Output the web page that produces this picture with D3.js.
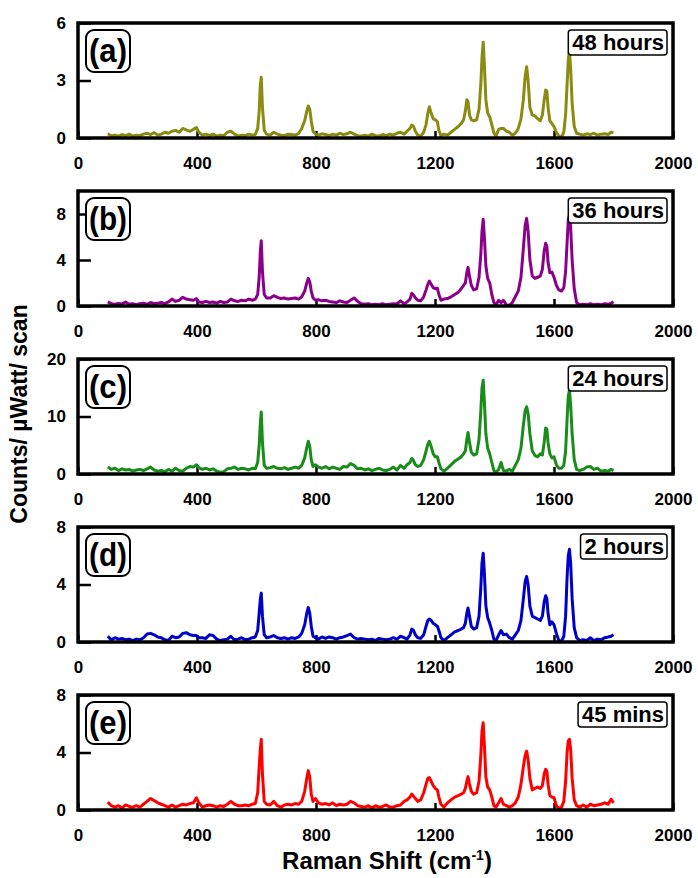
<!DOCTYPE html>
<html>
<head>
<meta charset="utf-8">
<script src="https://cdnjs.cloudflare.com/ajax/libs/d3/7.8.5/d3.min.js"></script>
<style>
    body { margin: 0; background: #fff; }
    svg text { font-family: "Liberation Sans", Arial, sans-serif; font-weight: bold; }
</style>
</head>
<body>
<svg id="chart" width="698" height="878"></svg>
<script>
// Raman shift positions (cm-1), shared by all five spectra
var ramanShift = [
    100,112,124,136,148,160,172,184,196,208,
    220,232,244,256,268,280,292,304,316,328,
    340,352,364,376,388,398,406,418,430,442,
    454,466,478,490,502,514,526,538,550,562,
    574,586,596,604,609,613,616,620,626,634,
    646,658,670,682,694,706,718,730,742,752,
    762,769,774,779,784,790,798,808,820,832,
    844,856,868,880,892,904,916,928,940,952,
    964,976,988,1000,1012,1024,1036,1048,1060,1072,
    1084,1096,1106,1116,1122,1128,1134,1142,1152,1162,
    1170,1176,1181,1187,1194,1201,1208,1213,1220,1230,
    1242,1254,1266,1278,1288,1296,1302,1307,1311,1316,
    1322,1330,1340,1348,1354,1358,1362,1366,1371,1377,
    1384,1391,1398,1405,1414,1422,1430,1440,1450,1460,
    1470,1480,1489,1497,1503,1508,1513,1519,1527,1536,
    1545,1554,1561,1567,1572,1576,1580,1586,1593,1600,
    1608,1616,1625,1633,1639,1644,1648,1652,1656,1661,
    1668,1676,1686,1698,1710,1722,1734,1746,1758,1770,
    1782,1792,1800
];

var counts48h = [
    0.22,0.12,0.15,0.1,0.18,0.12,0.2,0.1,0.15,0.12,
    0.2,0.25,0.18,0.28,0.15,0.2,0.3,0.25,0.35,0.4,
    0.3,0.5,0.42,0.35,0.45,0.55,0.3,0.15,0.2,0.12,
    0.2,0.1,0.15,0.12,0.3,0.35,0.2,0.1,0.15,0.12,
    0.2,0.15,0.18,0.5,1.4,2.8,3.17,1.6,0.4,0.2,
    0.15,0.3,0.2,0.15,0.12,0.2,0.18,0.15,0.25,0.5,
    0.9,1.4,1.67,1.5,0.9,0.35,0.2,0.15,0.22,0.18,
    0.12,0.2,0.15,0.25,0.18,0.22,0.3,0.2,0.12,0.1,
    0.15,0.1,0.2,0.12,0.1,0.18,0.12,0.2,0.15,0.25,
    0.3,0.2,0.35,0.5,0.68,0.6,0.35,0.15,0.1,0.3,
    0.7,1.3,1.63,1.3,1.0,0.95,0.85,0.4,0.12,0.2,
    0.15,0.3,0.45,0.6,0.75,0.95,1.4,2.0,1.9,1.2,
    0.95,0.9,0.95,1.5,2.8,4.2,5.0,3.8,2.0,1.3,
    1.1,0.7,0.25,0.1,0.45,0.5,0.5,0.35,0.3,0.15,
    0.25,0.5,1.0,2.0,3.2,3.72,3.0,1.6,1.2,1.15,
    1.0,0.9,1.2,2.0,2.5,2.45,1.6,0.9,0.75,0.6,
    0.3,0.1,0.05,0.3,1.2,2.8,4.1,4.54,3.6,1.8,
    0.6,0.25,0.2,0.15,0.22,0.18,0.25,0.15,0.2,0.22,
    0.18,0.3,0.28
];

var counts36h = [
    0.35,0.2,0.15,0.22,0.18,0.35,0.15,0.2,0.12,0.2,
    0.25,0.15,0.3,0.2,0.25,0.3,0.2,0.35,0.6,0.4,
    0.5,0.75,0.6,0.55,0.5,0.65,0.35,0.3,0.4,0.3,
    0.35,0.25,0.4,0.3,0.35,0.6,0.45,0.4,0.5,0.45,
    0.6,0.5,0.6,1.0,2.5,4.8,5.68,3.0,1.0,0.7,
    0.7,0.9,0.75,0.65,0.7,0.6,0.65,0.7,0.6,0.8,
    1.3,2.0,2.4,2.1,1.3,0.7,0.5,0.55,0.45,0.5,
    0.4,0.35,0.3,0.45,0.35,0.3,0.5,0.7,0.4,0.2,
    0.15,0.2,0.1,0.15,0.12,0.2,0.1,0.15,0.2,0.18,
    0.45,0.2,0.35,0.6,1.1,0.95,0.7,0.5,0.45,0.8,
    1.4,1.9,2.17,1.9,1.6,1.5,1.54,1.0,0.5,0.6,
    0.65,0.8,1.0,1.2,1.5,1.8,2.0,2.9,3.36,2.6,
    1.8,1.4,1.5,2.5,4.5,6.5,7.54,6.0,3.5,2.4,
    2.0,1.0,0.3,0.1,0.5,0.3,0.5,0.1,0.05,0.3,
    0.8,1.3,2.5,5.0,7.0,7.62,6.5,4.0,2.6,2.4,
    2.5,2.6,3.2,4.8,5.45,5.2,3.8,2.9,2.95,2.5,
    1.8,1.4,1.3,1.6,3.0,5.5,7.5,7.9,6.8,4.0,
    1.5,0.3,0.1,0.15,0.1,0.2,0.12,0.15,0.1,0.2,
    0.15,0.25,0.35
];

var counts24h = [
    1.2,0.8,1.0,0.6,0.9,0.7,0.8,0.5,0.7,0.8,
    0.6,0.9,1.2,0.7,0.5,0.6,0.4,0.8,0.5,1.0,
    0.6,0.5,1.0,1.3,1.2,1.6,1.1,0.8,1.0,0.7,
    0.9,0.5,0.3,0.4,0.9,1.0,1.2,0.8,1.0,0.9,
    0.7,1.0,0.9,2.0,5.0,9.0,10.8,5.5,1.5,1.0,
    1.1,1.3,1.0,0.9,1.1,0.8,1.0,1.2,1.0,1.5,
    2.8,4.6,5.7,4.8,2.5,1.3,1.6,1.2,1.0,1.3,
    0.9,1.2,1.0,0.8,1.3,1.2,1.8,1.5,0.9,1.0,
    0.7,0.9,0.6,0.8,1.0,0.7,0.6,0.8,1.2,0.7,
    1.5,1.0,1.6,2.0,2.7,2.3,1.6,1.3,1.5,2.5,
    4.0,5.2,5.7,4.8,3.5,3.0,3.0,2.0,0.9,0.5,
    1.0,1.6,2.2,2.6,3.0,3.5,4.0,6.0,7.2,5.5,
    3.8,3.3,3.5,6.0,11.0,15.0,16.3,12.5,7.0,4.5,
    3.5,2.0,0.6,0.3,0.8,2.0,0.6,0.5,0.8,0.5,
    1.5,2.5,4.5,8.5,11.0,11.7,10.5,7.0,4.0,3.2,
    3.0,3.5,3.3,5.5,8.0,7.8,5.5,3.5,2.8,3.0,
    1.6,1.0,1.0,1.5,4.0,9.5,13.5,14.6,12.0,7.0,
    2.5,0.8,0.6,0.8,1.2,1.3,0.8,1.0,0.5,0.6,
    0.5,0.8,0.6
];

var counts2h = [
    0.4,0.15,0.3,0.2,0.25,0.15,0.2,0.1,0.2,0.15,
    0.3,0.55,0.6,0.5,0.35,0.3,0.15,0.1,0.4,0.3,
    0.35,0.6,0.65,0.5,0.45,0.45,0.3,0.3,0.25,0.5,
    0.45,0.2,0.1,0.15,0.2,0.4,0.15,0.2,0.3,0.15,
    0.2,0.3,0.35,0.8,2.0,3.0,3.4,1.8,0.5,0.3,
    0.35,0.45,0.3,0.25,0.3,0.2,0.3,0.25,0.35,0.6,
    1.2,2.0,2.4,2.0,1.1,0.4,0.3,0.2,0.35,0.25,
    0.35,0.3,0.2,0.3,0.35,0.45,0.55,0.3,0.2,0.25,
    0.2,0.15,0.2,0.1,0.25,0.2,0.15,0.2,0.3,0.2,
    0.4,0.3,0.2,0.5,0.9,0.8,0.5,0.3,0.25,0.5,
    1.1,1.5,1.6,1.5,1.3,1.2,1.1,0.8,0.3,0.1,
    0.3,0.5,0.7,0.8,0.9,1.0,1.3,2.0,2.37,1.8,
    1.1,0.9,1.0,1.8,3.8,5.5,6.18,4.8,2.5,1.7,
    1.3,0.8,0.2,0.1,0.5,0.8,0.5,0.55,0.3,0.2,
    0.5,0.8,1.5,3.0,4.2,4.56,4.0,2.5,1.8,1.7,
    1.6,1.5,1.8,2.8,3.22,3.0,2.0,1.2,1.4,1.2,
    0.6,0.1,0.05,0.4,1.8,4.5,6.0,6.45,5.5,3.0,
    1.0,0.3,0.1,0.15,0.1,0.3,0.1,0.2,0.15,0.3,
    0.35,0.4,0.5
];

var counts45min = [
    0.55,0.3,0.2,0.3,0.15,0.35,0.25,0.2,0.3,0.2,
    0.4,0.6,0.8,0.65,0.5,0.4,0.3,0.2,0.35,0.2,
    0.3,0.4,0.35,0.45,0.5,0.85,0.5,0.2,0.3,0.35,
    0.3,0.2,0.3,0.25,0.4,0.6,0.4,0.3,0.3,0.35,
    0.3,0.4,0.45,1.2,3.0,4.3,4.92,2.5,0.6,0.4,
    0.35,0.6,0.3,0.2,0.35,0.4,0.35,0.45,0.4,0.6,
    1.3,2.2,2.74,2.3,1.1,0.6,0.8,0.5,0.4,0.45,
    0.35,0.5,0.3,0.4,0.35,0.4,0.6,0.5,0.3,0.25,
    0.2,0.3,0.15,0.3,0.2,0.25,0.35,0.2,0.2,0.3,
    0.35,0.6,0.7,0.9,1.11,0.95,0.8,0.6,0.7,1.2,
    1.8,2.2,2.25,2.0,1.7,1.5,1.4,0.9,0.4,0.2,
    0.5,0.7,0.9,1.0,1.1,1.2,1.5,2.0,2.32,1.8,
    1.3,1.1,1.2,2.0,3.8,5.5,6.07,4.5,2.3,1.6,
    1.4,0.9,0.3,0.2,0.5,0.8,0.4,0.3,0.2,0.3,
    0.5,0.9,1.8,3.0,3.8,4.1,3.5,2.2,1.4,1.5,
    1.6,1.5,1.7,2.5,2.83,2.7,1.8,1.0,0.9,0.85,
    0.3,0.1,0.2,0.6,2.0,4.0,4.8,4.92,4.2,2.2,
    0.7,0.3,0.2,0.35,0.2,0.4,0.3,0.35,0.4,0.5,
    0.4,0.75,0.5
];

var panelLetters = ["(a)", "(b)", "(c)", "(d)", "(e)"];
var timeLabels = ["48 hours", "36 hours", "24 hours", "2 hours", "45 mins"];
var yMax = [6, 10, 20, 8, 8];
var yTicks = [[0, 3, 6], [0, 4, 8], [0, 10, 20], [0, 4, 8], [0, 4, 8]];
var xTicks = [0, 400, 800, 1200, 1600, 2000];
var series = [counts48h, counts36h, counts24h, counts2h, counts45min];
var colors = ["#8b8b12", "#8b008b", "#198c19", "#0000c8", "#ff0000"];

var svg = d3.select("#chart");
var left = 78, right = 673, panelH = 115, firstTop = 23, step = 168;

var x = d3.scaleLinear().domain([0, 2000]).range([left, right]);

series.forEach(function (vals, p) {
    var top = firstTop + p * step;
    var y = d3.scaleLinear().domain([0, yMax[p]]).range([top + panelH, top]);
    var g = svg.append("g");

    var pts = ramanShift.map(function (s, i) {
        return [s, vals[i]];
    });

    var line = d3.line()
        .x(function (d) { return x(d[0]); })
        .y(function (d) { return y(d[1]); });

    // ticks point into the frame
    var xAxis = g.append("g")
        .attr("transform", "translate(0," + (top + panelH) + ")")
        .call(d3.axisBottom(x).tickValues(xTicks).tickFormat(d3.format("d"))
            .tickSize(-7).tickPadding(19));
    var yAxis = g.append("g")
        .attr("transform", "translate(" + left + ",0)")
        .call(d3.axisLeft(y).tickValues(yTicks[p]).tickFormat(d3.format("d"))
            .tickSize(-13).tickPadding(12));

    [xAxis, yAxis].forEach(function (a) {
        a.select(".domain").remove();
        a.selectAll("line").attr("stroke", "#000").attr("stroke-width", 2.5);
        a.selectAll("text")
            .attr("fill", "#000")
            .style("font-size", "17px")
            .style("font-family", "'Liberation Sans', Arial, sans-serif")
            .style("font-weight", "bold");
    });

    g.append("path")
        .attr("d", line(pts))
        .attr("fill", "none")
        .attr("stroke", colors[p])
        .attr("stroke-width", 3)
        .attr("stroke-linejoin", "round");

    g.append("rect")
        .attr("x", left).attr("y", top)
        .attr("width", right - left).attr("height", panelH)
        .attr("fill", "none")
        .attr("stroke", "#000")
        .attr("stroke-width", 3.5);

    // panel letter in rounded box
    g.append("rect")
        .attr("x", 86).attr("y", top + 7)
        .attr("width", 44).attr("height", 42)
        .attr("rx", 8)
        .attr("fill", "#fff")
        .attr("stroke", "#000")
        .attr("stroke-width", 2);
    g.append("text")
        .attr("x", 108).attr("y", top + 39)
        .attr("text-anchor", "middle")
        .attr("textLength", 38)
        .attr("lengthAdjust", "spacingAndGlyphs")
        .style("font-size", "33px")
        .text(panelLetters[p]);

    // time label at top right
    var box = g.append("rect")
        .attr("y", top + 7)
        .attr("height", 25)
        .attr("rx", 3)
        .attr("fill", "#fff")
        .attr("stroke", "#000")
        .attr("stroke-width", 1.5);
    var t = g.append("text")
        .attr("x", 664).attr("y", top + 27)
        .attr("text-anchor", "end")
        .style("font-size", "22px")
        .text(timeLabels[p]);
    var w = t.node().getComputedTextLength();
    box.attr("x", 667 - w - 7).attr("width", w + 7);
});

svg.append("text")
    .attr("transform", "translate(27,414) rotate(-90)")
    .attr("text-anchor", "middle")
    .style("font-size", "23px")
    .text("Counts/ \u00b5Watt/ scan");

var xt = svg.append("text")
    .attr("x", 387).attr("y", 869)
    .attr("text-anchor", "middle")
    .style("font-size", "24px");
xt.append("tspan").text("Raman Shift (cm");
xt.append("tspan").attr("dy", -9).style("font-size", "14px").text("-1");
xt.append("tspan").attr("dy", 9).text(")");
</script>
</body>
</html>
